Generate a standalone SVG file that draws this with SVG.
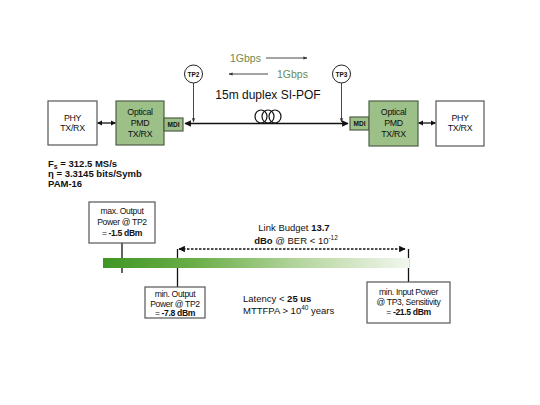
<svg xmlns="http://www.w3.org/2000/svg" width="540" height="405" viewBox="0 0 540 405">
<style>
text{font-family:"Liberation Sans",Arial,sans-serif;fill:#111}
.box{fill:#fff;stroke:#555;stroke-width:1.2}
.pmd{fill:#9dbf88;stroke:#4f5f46;stroke-width:1.2}
.bt{font-size:8.8px;text-anchor:middle;letter-spacing:-0.3px}
.mt{font-size:6.5px;font-weight:bold;text-anchor:middle}
.lt{font-size:8.6px;text-anchor:middle;letter-spacing:-0.35px}
.ln{stroke:#111;stroke-width:1.3;fill:none}
.thin{stroke:#333;stroke-width:0.9;fill:none}
.gb{font-size:10.5px;fill:#6b8a4f}
.b{font-weight:bold}
</style>
<defs>
<marker id="ah" viewBox="0 0 10 10" refX="9" refY="5" markerWidth="5" markerHeight="5" orient="auto-start-reverse"><path d="M0,0 L10,5 L0,10 z" fill="#111"/></marker>
<marker id="ahd" viewBox="0 0 10 10" refX="9" refY="5" markerWidth="4" markerHeight="4" orient="auto-start-reverse"><path d="M0,0 L10,5 L0,10 z" fill="#111"/></marker>
<marker id="ahs" viewBox="0 0 10 10" refX="9" refY="5" markerWidth="4.5" markerHeight="4.5" orient="auto-start-reverse"><path d="M0,1 L10,5 L0,9 z" fill="#333"/></marker>
<linearGradient id="gbar" x1="0" y1="0" x2="1" y2="0">
<stop offset="0" stop-color="#3f9624"/>
<stop offset="0.3" stop-color="#6aae48"/>
<stop offset="0.65" stop-color="#b6d6a0"/>
<stop offset="1" stop-color="#f2f7ee"/>
</linearGradient>
</defs>
<rect width="540" height="405" fill="#fff"/>

<g id="connectors">
<line class="ln" x1="97.5" y1="123" x2="115.5" y2="123" marker-start="url(#ahd)" marker-end="url(#ahd)"/>
<line class="ln" x1="418.5" y1="123" x2="435.5" y2="123" marker-start="url(#ahd)" marker-end="url(#ahd)"/>
<line class="ln" x1="185" y1="123.5" x2="348" y2="123.5" marker-start="url(#ah)" marker-end="url(#ah)"/>
<line class="thin" x1="193.5" y1="83" x2="193.5" y2="122" marker-end="url(#ahs)"/>
<line class="thin" x1="341.5" y1="83" x2="341.5" y2="122" marker-end="url(#ahs)"/>
<line class="thin" x1="266" y1="58" x2="307" y2="58" marker-end="url(#ahs)"/>
<line class="thin" x1="268" y1="74" x2="229" y2="74" marker-end="url(#ahs)"/>
<g fill="none" stroke="#111" stroke-width="1.2">
<ellipse cx="261" cy="116.5" rx="6" ry="6.5"/>
<ellipse cx="268" cy="116.5" rx="6" ry="6.5"/>
<ellipse cx="275" cy="116.5" rx="6" ry="6.5"/>
</g>
<line class="ln" x1="122" y1="243" x2="122" y2="273"/>
<line x1="179" y1="249" x2="405" y2="249" stroke="#111" stroke-width="1.3" stroke-dasharray="2.5,1.5" marker-start="url(#ah)" marker-end="url(#ah)"/>
<line class="ln" x1="177.5" y1="249" x2="177.5" y2="287"/>
<line class="ln" x1="408.5" y1="249" x2="408.5" y2="282"/>
</g>

<text class="gb" x="230" y="62">1Gbps</text>
<text class="gb" x="277" y="78">1Gbps</text>
<text x="268" y="99" font-size="12" text-anchor="middle">15m duplex SI-POF</text>

<g id="phy1"><rect class="box" x="48" y="101" width="49" height="44"/>
<text class="bt" x="72.5" y="121">PHY</text><text class="bt" x="72.5" y="131">TX/RX</text></g>
<g id="pmd1"><rect class="pmd" x="116" y="101" width="48" height="44"/>
<text class="bt" x="140" y="115">Optical</text><text class="bt" x="140" y="126">PMD</text><text class="bt" x="140" y="137">TX/RX</text></g>
<g id="mdi1"><rect class="pmd" x="164" y="118" width="19" height="13"/><text class="mt" x="173.5" y="127">MDI</text></g>
<g id="tp2"><circle cx="193.5" cy="74" r="9" fill="#fff" stroke="#222" stroke-width="1"/><text class="mt" x="193.5" y="76.5">TP2</text></g>
<g id="tp3"><circle cx="341.5" cy="74" r="9" fill="#fff" stroke="#222" stroke-width="1"/><text class="mt" x="341.5" y="76.5">TP3</text></g>
<g id="mdi2"><rect class="pmd" x="350" y="117" width="19" height="13"/><text class="mt" x="359.5" y="126">MDI</text></g>
<g id="pmd2"><rect class="pmd" x="369" y="101" width="49" height="45"/>
<text class="bt" x="393.5" y="115">Optical</text><text class="bt" x="393.5" y="126">PMD</text><text class="bt" x="393.5" y="137">TX/RX</text></g>
<g id="phy2"><rect class="box" x="436" y="101" width="48" height="45"/>
<text class="bt" x="460" y="121">PHY</text><text class="bt" x="460" y="131">TX/RX</text></g>

<g id="params">
<text x="48" y="167" font-weight="bold" font-size="9.5">F<tspan font-size="7" dy="1.5">s</tspan><tspan dy="-1.5"> = 312.5 MS/s</tspan></text>
<text x="48" y="177" font-weight="bold" font-size="9.5">η = 3.3145 bits/Symb</text>
<text x="48" y="187" font-weight="bold" font-size="9.5">PAM-16</text>
</g>

<g id="bar"><rect x="103" y="258" width="306" height="10" fill="url(#gbar)"/></g>

<g id="maxout"><rect class="box" x="89" y="202" width="66" height="41" stroke="#333"/>
<text class="lt" x="122" y="214">max. Output</text><text class="lt" x="122" y="225">Power @ TP2</text><text class="lt" x="122" y="236">= <tspan class="b">-1.5 dBm</tspan></text></g>

<g id="minout"><rect class="box" x="145" y="287" width="60" height="31" stroke="#333"/>
<text class="lt" x="175" y="297">min. Output</text><text class="lt" x="175" y="306.5">Power @ TP2</text><text class="lt" x="175" y="316">= <tspan class="b">-7.8 dBm</tspan></text></g>

<g id="minin"><rect class="box" x="367" y="282" width="83" height="41" stroke="#333"/>
<text class="lt" x="408.5" y="295">min. Input Power</text><text class="lt" x="408.5" y="305">@ TP3, Sensitivity</text><text class="lt" x="408.5" y="315">= <tspan class="b">-21.5 dBm</tspan></text></g>

<g id="budget">
<text x="294" y="231" text-anchor="middle" font-size="9.5">Link Budget <tspan class="b">13.7</tspan></text>
<text x="296" y="244" text-anchor="middle" font-size="9.5"><tspan class="b">dBo</tspan> @ BER &lt; 10<tspan font-size="6.5" dy="-4">-12</tspan></text>
<text x="243" y="302" font-size="9.5">Latency &lt; <tspan class="b">25 us</tspan></text>
<text x="243" y="314" font-size="9.5">MTTFPA &gt; 10<tspan font-size="6.5" dy="-4">40</tspan><tspan dy="4"> years</tspan></text>
</g>
</svg>
